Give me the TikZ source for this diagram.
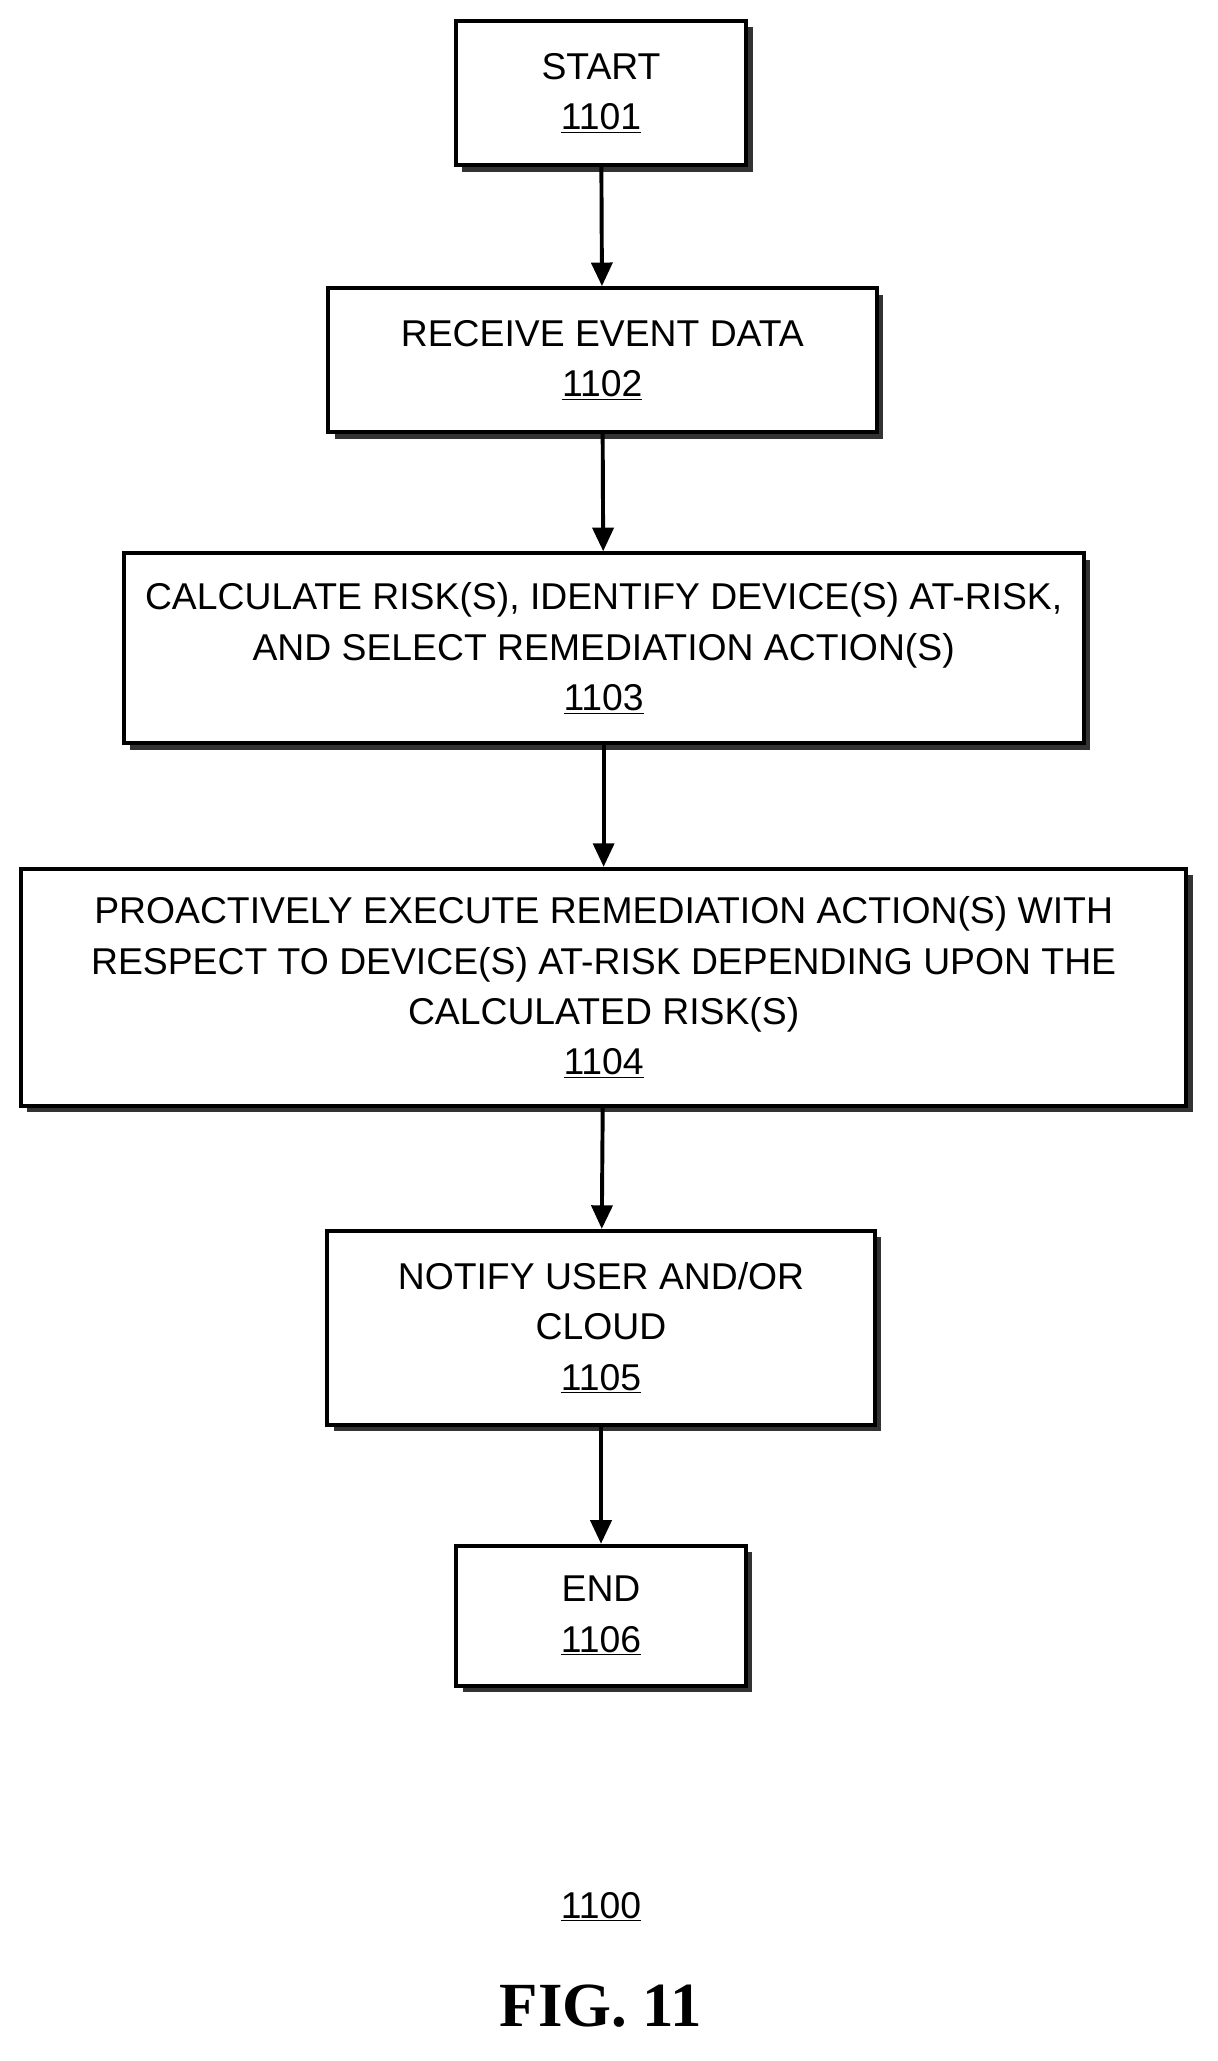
\documentclass[tikz,border=0pt]{standalone}
\usepackage{fontspec}
\setmainfont{Liberation Sans}
\newfontfamily\capfont{Liberation Serif}
\usetikzlibrary{shadows,arrows.meta}

\tikzset{
	flowbox/.style={draw, line width=3pt, fill=white, align=center,
		font=\fontsize{28.5}{38.5}\selectfont,
		drop shadow={shadow xshift=5pt, shadow yshift=-5pt, fill=black!80, opacity=1}},
	flow/.style={line width=3pt, -{Triangle[length=18pt,width=16pt]}}
}

\begin{document}
\begin{tikzpicture}[x=1pt,y=-1pt]

	\useasboundingbox (0,0) rectangle (930,1574);

	\node[flowbox, minimum width=222, minimum height=110] (start) at (459,71) {START\\\underline{1101}};
	\node[flowbox, minimum width=419, minimum height=110] (recv) at (460,275) {RECEIVE EVENT DATA\\\underline{1102}};
	\node[flowbox, minimum width=733, minimum height=145] (calc) at (461,495) {CALCULATE RISK(S), IDENTIFY DEVICE(S) AT-RISK,\\AND SELECT REMEDIATION ACTION(S)\\\underline{1103}};
	\node[flowbox, minimum width=890, minimum height=181] (exec) at (461,754) {PROACTIVELY EXECUTE REMEDIATION ACTION(S) WITH\\RESPECT TO DEVICE(S) AT-RISK DEPENDING UPON THE\\CALCULATED RISK(S)\\\underline{1104}};
	\node[flowbox, minimum width=418, minimum height=148] (notify) at (459,1014) {NOTIFY USER AND/OR\\CLOUD\\\underline{1105}};
	\node[flowbox, minimum width=221, minimum height=107] (end) at (459,1234) {END\\\underline{1106}};

	\draw[flow] (start) -- (recv);
	\draw[flow] (recv) -- (calc);
	\draw[flow] (calc) -- (exec);
	\draw[flow] (exec) -- (notify);
	\draw[flow] (notify) -- (end);

	\node[font=\fontsize{28.5}{32}\selectfont] (num) at (459,1456) {\underline{1100}};
	\node[font=\capfont\bfseries\fontsize{48}{56}\selectfont] (fig) at (459,1532) {FIG. 11};

\end{tikzpicture}
\end{document}
